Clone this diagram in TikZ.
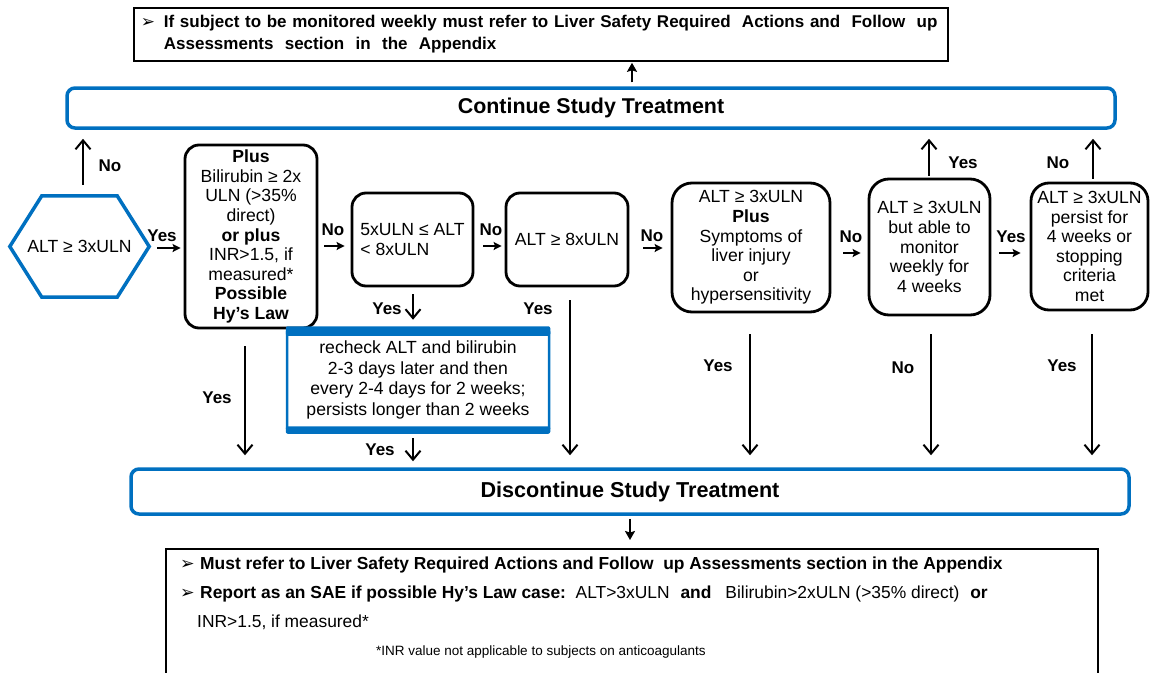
\documentclass[tikz,border=0pt]{standalone}
\usepackage{fontspec}
\setmainfont{Liberation Sans}
\newfontfamily\dejavu{DejaVu Sans}
\usetikzlibrary{arrows.meta}
\definecolor{myblue}{RGB}{0,112,192}
\newcommand{\mybul}{{\dejavu\mdseries\char"27A2}}
\begin{document}
\begin{tikzpicture}[x=1pt,y=-1pt,
  dec/.style={draw, line width=2.8pt, rounded corners=14pt, align=center, inner sep=0pt, font=\fontsize{17.6}{19.6}\selectfont},
  bluebox/.style={draw=myblue, line width=3.5pt, rounded corners=8pt, inner sep=0pt, font=\bfseries\fontsize{21.4}{24}\selectfont},
  lbl/.style={font=\bfseries\fontsize{17}{20}\selectfont, inner sep=0pt},
  harr/.style={line width=2pt, -{Stealth[length=8pt,width=8pt,inset=1.5pt]}},
  varr/.style={line width=2pt, -{Straight Barb[length=9pt,width=15pt]}},
  botb/.style={anchor=west, inner sep=0pt, font=\bfseries\fontsize{17.4}{20}\selectfont}
]
\useasboundingbox (0,0) rectangle (1151,672);
\clip (0,0) rectangle (1151,672);

% top note box
\node[draw, line width=1.8pt, anchor=north west, minimum width=814pt, minimum height=53pt,
      inner xsep=7pt, inner ysep=0pt, align=left, text width=800pt,
      font=\bfseries\fontsize{17}{22}\selectfont] (top) at (133,7)
  {\makebox[23pt][l]{\mybul}If subject to be monitored weekly must refer to Liver Safety Required\ \ Actions and\ \ Follow\ \ up\\
   \hspace*{23pt}Assessments\ \ section\ \ in\ \ the\ \ Appendix};

% continue box
\node[bluebox, minimum width=1048pt, minimum height=40pt] (cont) at (591,108) {Continue Study Treatment};

% hexagon
\node[inner sep=0pt, minimum width=139pt, minimum height=101pt, font=\fontsize{17.6}{20}\selectfont] (hex) at (79.5,246.5) {ALT ≥ 3xULN};
\draw[draw=myblue, line width=3.5pt, line join=miter]
  (hex.west) -- ([xshift=32pt]hex.north west) -- ([xshift=-32pt]hex.north east) -- (hex.east)
  -- ([xshift=-32pt]hex.south east) -- ([xshift=32pt]hex.south west) -- cycle;

% decision boxes
\node[dec, minimum width=132pt, minimum height=183pt] (b1) at (251,236.5)
  {\textbf{Plus}\\Bilirubin ≥ 2x\\ULN (>35\%\\direct)\\\textbf{or plus}\\INR>1.5, if\\measured*\\\textbf{Possible}\\\textbf{Hy’s Law}};
\node[dec, minimum width=121pt, minimum height=93pt, align=left] (b2) at (412.5,239.5)
  {5xULN ≤ ALT\\< 8xULN};
\node[dec, minimum width=122pt, minimum height=93pt] (b3) at (567,239.5) {ALT ≥ 8xULN};
\node[dec, rounded corners=20pt, minimum width=158pt, minimum height=129pt] (b4) at (751,247.5)
  {ALT ≥ 3xULN\\\textbf{Plus}\\Symptoms of\\liver injury\\or\\hypersensitivity};
\node[dec, rounded corners=20pt, minimum width=121pt, minimum height=136pt] (b5) at (929.5,247)
  {ALT ≥ 3xULN\\but able to\\monitor\\weekly for\\4 weeks};
\node[dec, rounded corners=18pt, minimum width=117pt, minimum height=127pt] (b6) at (1089.5,246.5)
  {ALT ≥ 3xULN\\persist for\\4 weeks or\\stopping\\criteria\\met};

% recheck box
\node[draw=myblue, line width=2.5pt, rounded corners=3pt, minimum width=262pt, minimum height=102pt,
      inner sep=0pt, align=center, font=\fontsize{17.6}{20.5}\selectfont] (rc) at (418,380)
  {recheck ALT and bilirubin\\2-3 days later and then\\every 2-4 days for 2 weeks;\\persists longer than 2 weeks};
\fill[myblue, rounded corners=2pt] ([yshift=1.5pt]rc.north west) rectangle ([yshift=-8pt]rc.north east);
\fill[myblue, rounded corners=2pt] ([yshift=-1.5pt]rc.south west) rectangle ([yshift=6pt]rc.south east);

% discontinue box
\node[bluebox, font=\bfseries\fontsize{21.6}{24}\selectfont, minimum width=998pt, minimum height=45pt] (disc) at (630,491.5) {Discontinue Study Treatment};

% bottom note box
\node[draw, line width=2.2pt, anchor=north west, minimum width=932pt, minimum height=140pt] (bot) at (165,548) {};
\node[botb] (bl1) at (180,565) {\makebox[20pt][l]{\mybul}Must refer to Liver Safety Required Actions and Follow\ \ up Assessments section in the Appendix};
\node[botb] (bl2) at (180,594) {\makebox[20pt][l]{\mybul}Report as an SAE if possible Hy’s Law case:\ \ \mdseries ALT>3xULN\hspace{6pt} \bfseries and\hspace{14pt}\mdseries Bilirubin>2xULN (>35\% direct)\hspace{6pt} \bfseries or};
\node[botb, font=\fontsize{17.4}{20}\selectfont] (bl3) at (197,622) {INR>1.5, if measured*};
\node[botb, font=\fontsize{13.5}{16}\selectfont] (bl4) at (376,652) {*INR value not applicable to subjects on anticoagulants};

% top arrows
\draw[line width=2.8pt, -{Stealth[length=9pt,width=10pt,inset=1.5pt]}, shorten <=4pt, shorten >=1pt]
  ([xshift=41pt]cont.north) -- ([xshift=41pt]cont.north |- top.south);
\draw[line width=2.4pt, -{Stealth[length=9pt,width=10pt,inset=1.5pt]}, shorten <=3pt, shorten >=8pt]
  ([xshift=0pt]disc.south) -- ([xshift=0pt]disc.south |- bot.north);

% horizontal arrows
\draw[harr, shorten <=8pt, shorten >=3pt] ([yshift=-1.5pt]hex.east) -- ([yshift=-1.5pt]hex.east -| b1.west);
\node[lbl] (l1) at (162,236) {Yes};
\draw[harr, shorten <=6pt, shorten >=6pt] ([yshift=-9.5pt]b1.east) -- ([yshift=-9.5pt]b1.east -| b2.west);
\node[lbl] (l2) at (333,230) {No};
\draw[harr, shorten <=9pt, shorten >=3pt] ([yshift=-6.5pt]b2.east) -- ([yshift=-6.5pt]b2.east -| b3.west);
\node[lbl] (l3) at (491,230) {No};
\draw[harr, shorten <=14pt, shorten >=8pt] ([yshift=-8.5pt]b3.east) -- ([yshift=-8.5pt]b3.east -| b4.west);
\node[lbl] (l4) at (652,236) {No};
\draw[harr, shorten <=12pt, shorten >=7pt] ([yshift=-5.5pt]b4.east) -- ([yshift=-5.5pt]b4.east -| b5.west);
\node[lbl] (l5) at (851,237) {No};
\draw[harr, shorten <=8pt, shorten >=9pt] ([yshift=-6pt]b5.east) -- ([yshift=-6pt]b5.east -| b6.west);
\node[lbl] (l6) at (1011,237) {Yes};

% up arrows
\draw[varr, shorten <=11pt, shorten >=9pt] ([xshift=3.5pt]hex.north) -- ([xshift=3.5pt]hex.north |- cont.south);
\node[lbl] (l7) at (110,166) {No};
\draw[varr, shorten <=2pt, shorten >=9pt] ([xshift=-0.5pt]b5.north) -- ([xshift=-0.5pt]b5.north |- cont.south);
\node[lbl] (l8) at (963,163) {Yes};
\draw[varr, shorten <=3pt, shorten >=9pt] ([xshift=3.5pt]b6.north) -- ([xshift=3.5pt]b6.north |- cont.south);
\node[lbl] (l9) at (1058,163) {No};

% down arrows
\draw[varr, shorten <=17pt, shorten >=12pt] ([xshift=-6pt]b1.south) -- ([xshift=-6pt]b1.south |- disc.north);
\node[lbl] (l10) at (217,398) {Yes};
\draw[varr, shorten <=7pt, shorten >=8pt] ([xshift=0.5pt]b2.south) -- ([xshift=0.5pt]b2.south |- rc.north);
\node[lbl] (l11) at (387,309) {Yes};
\draw[varr, shorten <=6pt, shorten >=6pt] ([xshift=-5pt]rc.south) -- ([xshift=-5pt]rc.south |- disc.north);
\node[lbl] (l12) at (380,450) {Yes};
\draw[varr, shorten <=13pt, shorten >=12pt] ([xshift=3pt]b3.south) -- ([xshift=3pt]b3.south |- disc.north);
\node[lbl] (l13) at (538,309) {Yes};
\draw[varr, shorten <=21pt, shorten >=12pt] ([xshift=-1pt]b4.south) -- ([xshift=-1pt]b4.south |- disc.north);
\node[lbl] (l14) at (718,366) {Yes};
\draw[varr, shorten <=18pt, shorten >=12pt] ([xshift=1.5pt]b5.south) -- ([xshift=1.5pt]b5.south |- disc.north);
\node[lbl] (l15) at (903,368) {No};
\draw[varr, shorten <=23pt, shorten >=12pt] ([xshift=2.5pt]b6.south) -- ([xshift=2.5pt]b6.south |- disc.north);
\node[lbl] (l16) at (1062,366) {Yes};
\end{tikzpicture}
\end{document}
